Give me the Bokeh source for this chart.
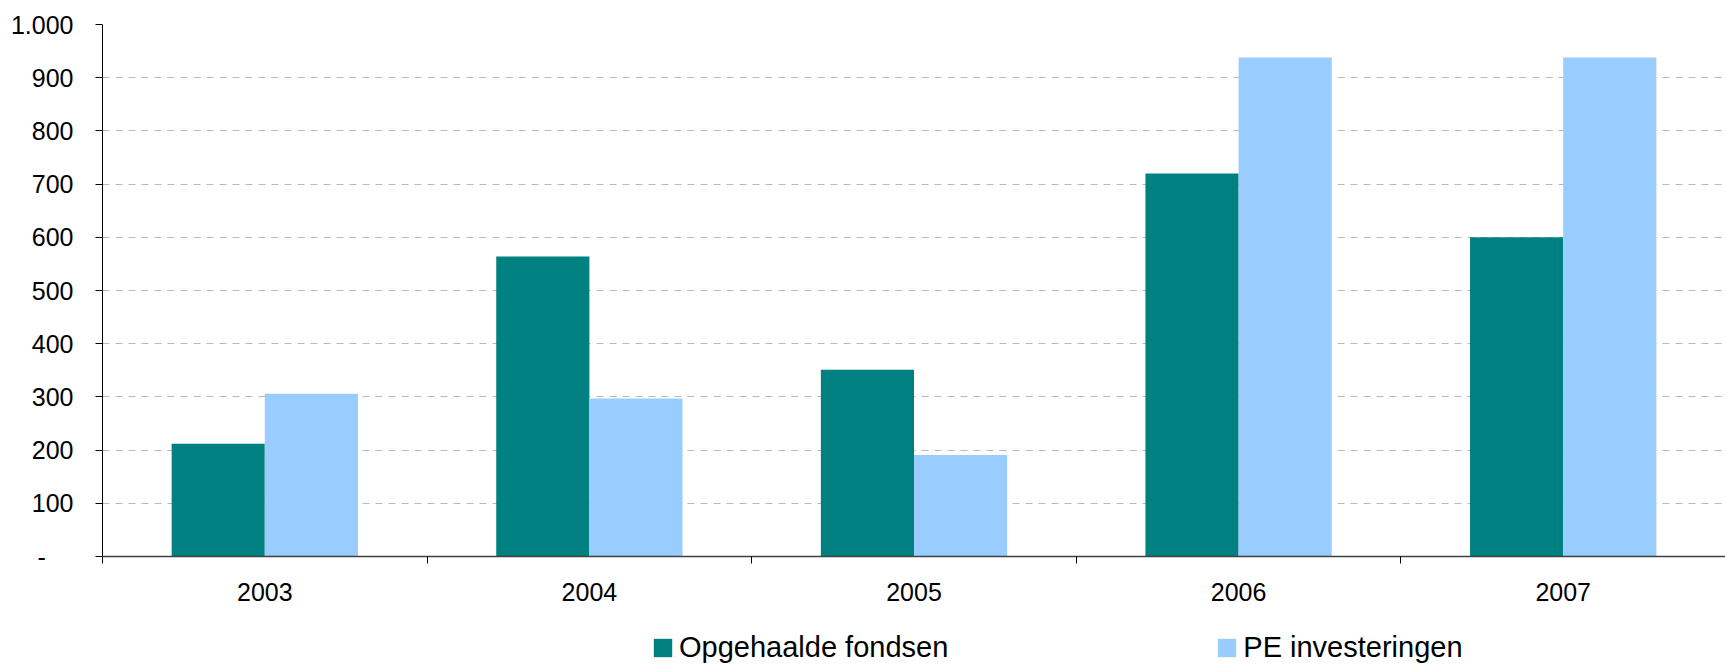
from bokeh.plotting import figure
from bokeh.layouts import column
from bokeh.models import Range1d, FixedTicker, Legend, LegendItem, ColumnDataSource
from bokeh.transform import dodge
from bokeh.embed import file_html
from bokeh.resources import INLINE
import numpy as np

# ---- data ----
years = ["2003", "2004", "2005", "2006", "2007"]
opgehaalde_fondsen = [212, 564, 351, 720, 600]
pe_investeringen = [306, 297, 191, 938, 938]
y_ticks = [0, 100, 200, 300, 400, 500, 600, 700, 800, 900, 1000]
# zero is shown as an accounting-style dash (padded like Excel's format)
y_tick_labels = ["-\u00a0\u00a0\u00a0\u00a0", "100", "200", "300", "400", "500", "600", "700", "800", "900", "1.000"]
series_names = ["Opgehaalde fondsen", "PE investeringen"]
colors = ["#008080", "#99CCFF"]

FONT = "Liberation Sans"
bar_w = 0.287

pos = np.arange(len(years)) + 0.5
src = ColumnDataSource(dict(x=pos, a=opgehaalde_fondsen, b=pe_investeringen))

p = figure(width=1725, height=606, output_backend="svg", toolbar_location=None,
           x_range=Range1d(0, len(years)), y_range=Range1d(0, 1000),
           min_border_left=102, min_border_right=0, min_border_top=24, min_border_bottom=50)
p.outline_line_color = None
p.background_fill_color = "white"
p.border_fill_color = "white"

r1 = p.vbar(x=dodge("x", -bar_w / 2, range=p.x_range), top="a", width=bar_w, source=src,
            fill_color=colors[0], line_color=None)
r2 = p.vbar(x=dodge("x", bar_w / 2, range=p.x_range), top="b", width=bar_w, source=src,
            fill_color=colors[1], line_color=None)

# x axis: labels at centres, ticks at category boundaries
xa = p.xaxis[0]
xa.ticker = FixedTicker(ticks=list(pos), minor_ticks=list(range(len(years) + 1)))
xa.major_label_overrides = {float(x): y for x, y in zip(pos, years)}
xa.major_tick_line_color = None
xa.major_tick_out = 0
xa.major_tick_in = 0
xa.minor_tick_out = 7
xa.minor_tick_in = 0
xa.minor_tick_line_color = "#000000"
xa.axis_line_color = "#404040"
xa.axis_line_width = 1.5
xa.major_label_text_font = FONT
xa.major_label_text_font_size = "25px"
xa.major_label_text_color = "#000000"
xa.major_label_standoff = 19

ya = p.yaxis[0]
ya.ticker = FixedTicker(ticks=y_ticks, minor_ticks=[])
ya.major_label_overrides = {t: l for t, l in zip(y_ticks, y_tick_labels)}
ya.major_tick_out = 7
ya.major_tick_in = 0
ya.major_tick_line_color = "#000000"
ya.axis_line_color = "#000000"
ya.major_label_text_font = FONT
ya.major_label_text_font_size = "25px"
ya.major_label_text_color = "#000000"
ya.major_label_standoff = 22

p.xgrid.grid_line_color = None
p.ygrid.grid_line_color = "#B8B8B8"
p.ygrid.grid_line_dash = "7 6"
p.ygrid.grid_line_width = 1

# ---- legend strip below the chart (its frame is aligned with the chart's) ----
lg = figure(width=1725, height=58, output_backend="svg", toolbar_location=None,
            x_axis_location=None, y_axis_location=None,
            min_border=0, x_range=Range1d(0, 1), y_range=Range1d(0, 1))
lg.outline_line_color = None
lg.xgrid.grid_line_color = None
lg.ygrid.grid_line_color = None
# legend keys: one off-range point each, so only the legend swatch is visible
key_src = ColumnDataSource(dict(x=[-5.0], top=[0.0]))
k1 = lg.vbar(x="x", top="top", width=0.1, source=key_src, fill_color=colors[0], line_color=None)
k2 = lg.vbar(x="x", top="top", width=0.1, source=key_src, fill_color=colors[1], line_color=None)

legend = Legend(items=[LegendItem(label=series_names[0], renderers=[k1]),
                       LegendItem(label=series_names[1], renderers=[k2])],
                orientation="horizontal", location=(549, 0),
                glyph_width=23, glyph_height=23, label_height=23,
                label_standoff=5, spacing=267, padding=0, margin=0,
                border_line_color=None, background_fill_alpha=0,
                label_text_font=FONT, label_text_font_size="29px",
                label_text_color="#000000")
lg.add_layout(legend, "center")

layout = column(p, lg, spacing=0)
open("out.html", "w").write(file_html(layout, INLINE))
